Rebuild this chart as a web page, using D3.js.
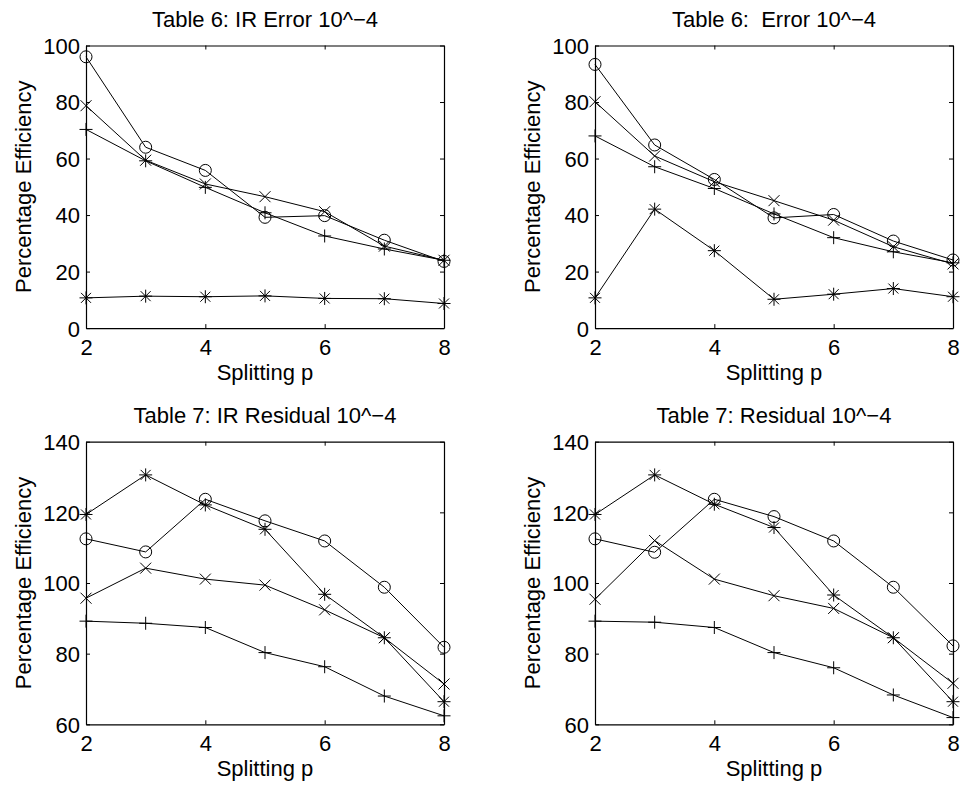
<!DOCTYPE html>
<html>
<head>
<meta charset="utf-8">
<script src="https://cdn.jsdelivr.net/npm/d3@7"></script>
<style>
  html, body { margin: 0; padding: 0; background: #fff; }
  svg { display: block; }
  text { font-family: "Liberation Sans", Arial, Helvetica, sans-serif; fill: #000; white-space: pre; }
</style>
</head>
<body>
<svg id="chart" width="971" height="787"></svg>
<script>
// ---------- data ----------
const splittingP = [2, 3, 4, 5, 6, 7, 8];
const xTickValues = [2, 4, 6, 8];
const yTicksTable6 = [0, 20, 40, 60, 80, 100];
const yTicksTable7 = [60, 80, 100, 120, 140];
const panelTitles = [
  "Table 6: IR Error 10^\u22124",
  "Table 6:  Error 10^\u22124",
  "Table 7: IR Residual 10^\u22124",
  "Table 7: Residual 10^\u22124"
];
const xLabel = "Splitting p";
const yLabel = "Percentage Efficiency";

// Table 6: IR Error
const t6IrCircle = [96.0, 64.0, 55.8, 39.2, 39.8, 31.1, 23.6];
const t6IrCross  = [78.7, 59.4, 51.0, 46.5, 41.2, 29.0, 24.0];
const t6IrPlus   = [70.3, 59.2, 49.8, 40.8, 32.6, 28.0, 24.0];
const t6IrStar   = [10.7, 11.3, 11.1, 11.4, 10.5, 10.4, 8.7];

// Table 6: Error
const t6Circle = [93.3, 64.8, 52.6, 39.0, 40.2, 30.8, 24.1];
const t6Cross  = [80.1, 60.9, 51.8, 45.1, 38.2, 28.8, 22.7];
const t6Plus   = [68.0, 57.1, 49.4, 40.4, 32.0, 27.0, 23.1];
const t6Star   = [10.7, 42.1, 27.4, 10.2, 12.0, 14.0, 11.1];

// Table 7: IR Residual
const t7IrCircle = [112.5, 108.8, 123.7, 117.6, 111.9, 98.8, 81.8];
const t7IrCross  = [95.7, 104.2, 101.1, 99.4, 92.4, 84.5, 71.4];
const t7IrPlus   = [89.2, 88.6, 87.4, 80.3, 76.3, 68.0, 62.4];
const t7IrStar   = [119.4, 130.6, 122.1, 115.2, 96.8, 84.5, 66.4];

// Table 7: Residual
const t7Circle = [112.5, 108.7, 123.7, 118.8, 111.9, 98.8, 82.2];
const t7Cross  = [95.4, 112.0, 101.1, 96.4, 92.8, 84.5, 71.6];
const t7Plus   = [89.2, 88.9, 87.4, 80.3, 76.0, 68.3, 61.9];
const t7Star   = [119.4, 130.6, 122.3, 115.7, 96.6, 84.5, 66.4];

// ---------- layout ----------
const svg = d3.select("#chart");
const FONT = 22;
const colLeft = [86, 595];
const plotW = 358;
const rowTop = [45.5, 441.7];
const plotH = 282.6;

const panels = [
  { title: panelTitles[0], col: 0, row: 0, domain: [0, 100], yTicks: yTicksTable6,
    series: [["o", t6IrCircle], ["x", t6IrCross], ["+", t6IrPlus], ["*", t6IrStar]] },
  { title: panelTitles[1], col: 1, row: 0, domain: [0, 100], yTicks: yTicksTable6,
    series: [["o", t6Circle], ["x", t6Cross], ["+", t6Plus], ["*", t6Star]] },
  { title: panelTitles[2], col: 0, row: 1, domain: [60, 140], yTicks: yTicksTable7,
    series: [["o", t7IrCircle], ["x", t7IrCross], ["+", t7IrPlus], ["*", t7IrStar]] },
  { title: panelTitles[3], col: 1, row: 1, domain: [60, 140], yTicks: yTicksTable7,
    series: [["o", t7Circle], ["x", t7Cross], ["+", t7Plus], ["*", t7Star]] }
];

function markerPath(type) {
  const p = d3.path();
  if (type === "x") {
    const s = 5.5;
    p.moveTo(-s, -s); p.lineTo(s, s); p.moveTo(-s, s); p.lineTo(s, -s);
  } else if (type === "+") {
    const s = 6.5;
    p.moveTo(-s, 0); p.lineTo(s, 0); p.moveTo(0, -s); p.lineTo(0, s);
  } else if (type === "*") {
    const s = 6.5, d = 5;
    p.moveTo(-s, 0); p.lineTo(s, 0); p.moveTo(0, -s); p.lineTo(0, s);
    p.moveTo(-d, -d); p.lineTo(d, d); p.moveTo(-d, d); p.lineTo(d, -d);
  }
  return p.toString();
}

panels.forEach(pn => {
  const x0 = colLeft[pn.col], y0 = rowTop[pn.row];
  const x = d3.scaleLinear().domain([2, 8]).range([x0, x0 + plotW]);
  const y = d3.scaleLinear().domain(pn.domain).range([y0 + plotH, y0]);
  const g = svg.append("g");

  // axes (box with inward ticks)
  const bottom = g.append("g").attr("transform", `translate(0,${y0 + plotH})`)
    .call(d3.axisBottom(x).tickValues(xTickValues).tickFormat(d3.format("d"))
      .tickSizeInner(-4).tickSizeOuter(0).tickPadding(11.5));
  const top = g.append("g").attr("transform", `translate(0,${y0})`)
    .call(d3.axisTop(x).tickValues(xTickValues).tickFormat("")
      .tickSizeInner(-4).tickSizeOuter(0));
  const left = g.append("g").attr("transform", `translate(${x0},0)`)
    .call(d3.axisLeft(y).tickValues(pn.yTicks).tickFormat(d3.format("d"))
      .tickSizeInner(-4).tickSizeOuter(0).tickPadding(6));
  const right = g.append("g").attr("transform", `translate(${x0 + plotW},0)`)
    .call(d3.axisRight(y).tickValues(pn.yTicks).tickFormat("")
      .tickSizeInner(-4).tickSizeOuter(0));

  [bottom, top, left, right].forEach(a => {
    a.selectAll("path.domain").attr("stroke", "#000").attr("stroke-width", 1.2);
    a.selectAll(".tick line").attr("stroke", "#000").attr("stroke-width", 1);
    a.selectAll("text").attr("font-size", FONT)
      .attr("font-family", "'Liberation Sans', Arial, Helvetica, sans-serif")
      .attr("fill", "#000");
  });
  left.selectAll("text").attr("dy", "0.36em");

  // title
  g.append("text")
    .attr("x", x0 + plotW / 2).attr("y", y0 - 19)
    .attr("text-anchor", "middle").attr("font-size", FONT)
    .attr("xml:space", "preserve")
    .text(pn.title);
  // x label
  g.append("text")
    .attr("x", x0 + plotW / 2).attr("y", y0 + plotH + 52)
    .attr("text-anchor", "middle").attr("font-size", FONT)
    .text(xLabel);
  // y label
  g.append("text")
    .attr("transform", `translate(${x0 - 55},${y0 + plotH / 2}) rotate(-90)`)
    .attr("text-anchor", "middle").attr("font-size", FONT)
    .text(yLabel);

  // series
  const line = d3.line().x((d, i) => x(splittingP[i])).y(d => y(d));
  pn.series.forEach(([type, vals]) => {
    g.append("path").datum(vals)
      .attr("d", line).attr("fill", "none")
      .attr("stroke", "#000").attr("stroke-width", 1);
    const m = g.append("g").selectAll("g").data(vals).join("g")
      .attr("transform", (d, i) => `translate(${x(splittingP[i])},${y(d)})`);
    if (type === "o") {
      m.append("circle").attr("r", 6).attr("fill", "none")
        .attr("stroke", "#000").attr("stroke-width", 1);
    } else {
      m.append("path").attr("d", markerPath(type)).attr("fill", "none")
        .attr("stroke", "#000").attr("stroke-width", 1);
    }
  });
});
</script>
</body>
</html>
